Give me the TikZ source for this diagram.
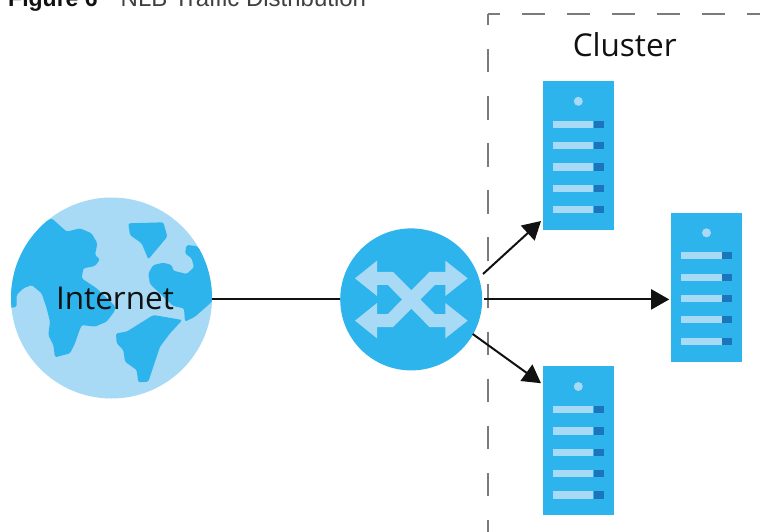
\documentclass[tikz,border=0pt]{standalone}
\usepackage{fontspec}
\setmainfont{Liberation Sans}
\newfontfamily\labelfont{Open Sans}
\usetikzlibrary{arrows.meta}
\definecolor{netblue}{HTML}{2DB4EC}
\definecolor{netlight}{HTML}{A8D9F5}
\definecolor{netdark}{HTML}{1C75BC}
\definecolor{dashgray}{HTML}{7B7B7B}
\definecolor{inkblack}{HTML}{111111}
\tikzset{
  globe/.style={circle,fill=netlight,minimum size=201pt,inner sep=0pt,outer sep=0pt},
  switchnode/.style={circle,fill=netblue,minimum size=142pt,inner sep=0pt,outer sep=0pt},
  server/.style={rectangle,fill=netblue,minimum width=71pt,minimum height=149pt,inner sep=0pt,outer sep=0pt},
  continent/.style={fill=netblue,rounded corners=1.5pt},
  link/.style={line width=2pt,draw=inkblack},
  arrowlink/.style={link,-{Triangle[length=18pt,width=20pt]}},
  bigtext/.style={font=\labelfont\fontsize{31.5}{34}\selectfont,text=inkblack,inner sep=0pt,anchor=base},
  clusterline/.style={draw=dashgray,line width=1.7pt},
  shuffle/.style={draw=netlight,line width=13pt,line join=miter},
  shufflehead/.style={fill=netlight}
}
\newcommand{\serverdetail}[1]{%
  \begin{scope}[shift={(#1.north west)}]
    \fill[netlight] (35.3,20.3) circle (4.5);
    \foreach \yy in {43.3,64.7,86,107.3,128.7}{
      \fill[netlight] (10,\yy-3.6) rectangle (50.3,\yy+3.6);
      \fill[netdark] (51,\yy-3.6) rectangle (61,\yy+3.6);
    }
  \end{scope}}
\begin{document}
\begin{tikzpicture}[x=1pt,y=-1pt]
\useasboundingbox (0,0) rectangle (760,531);
% caption
\node[anchor=base west,inner sep=0pt,font=\bfseries\fontsize{23}{26}\selectfont,text=inkblack] (figno) at (8,6) {Figure 6};
\node[anchor=base west,inner sep=0pt,font=\fontsize{24}{27}\selectfont,text=black!75] (figtitle) at (120.5,6) {NLB Traffic Distribution};
% cluster outline
\draw[clusterline,dash pattern=on 23.5pt off 21.5pt,dash phase=11.5pt] (488.3,14.3) -- (770,14.3);
\draw[clusterline,dash pattern=on 23.5pt off 23.6pt,dash phase=12.5pt] (488.3,14.3) -- (488.3,540);
\node[bigtext] (clusterlabel) at (624.7,56.7) {Cluster};
% globe
\node[globe] (globe) at (111.5,298) {};
\begin{scope}
  \clip (globe) circle (100.5);
  \begin{scope}[shift={(0,180)},x=0.33333pt,y=-0.33333pt]
    \fill[continent] (155,115) -- (200,155) -- (240,145) -- (275,160) -- (292,190) -- (285,225) -- (300,238) -- (285,258) -- (250,265) -- (245,295) -- (290,325) -- (345,378) -- (345,392) -- (320,425) -- (285,440) -- (245,435) -- (235,460) -- (225,490) -- (210,520) -- (165,532) -- (160,495) -- (145,465) -- (150,425) -- (140,385) -- (125,340) -- (95,315) -- (70,325) -- (50,345) -- (50,380) -- (25,385) -- (25,300) -- (45,230) -- (95,150) -- cycle;
    \fill[continent] (385,130) -- (490,127) -- (502,170) -- (445,238) -- (425,190) -- (390,165) -- cycle;
    \fill[continent] (560,195) -- (590,198) -- (650,250) -- (650,350) -- (625,375) -- (585,410) -- (555,425) -- (552,385) -- (520,378) -- (490,350) -- (450,312) -- (445,280) -- (460,255) -- (490,248) -- (515,255) -- (520,272) -- (560,282) -- (582,262) -- (575,235) -- (555,220) -- cycle;
    \fill[continent] (460,405) -- (547,420) -- (510,460) -- (480,500) -- (445,605) -- (415,607) -- (410,570) -- (375,545) -- (370,510) -- (350,490) -- (348,460) -- (380,455) -- (420,430) -- cycle;
  \end{scope}
\end{scope}
\node[bigtext] (internetlabel) at (115,309.3) {Internet};
% switch
\node[switchnode] (switch) at (411.2,299.4) {};
\begin{scope}[shift={(330,220)},x=0.33333pt,y=-0.33333pt]
  \draw[shuffle] (120,175) -- (181,175) -- (307,302) -- (360,302);
  \draw[shuffle] (120,302) -- (181,302) -- (307,175) -- (360,175);
  \fill[shufflehead] (75,175) -- (141,122) -- (141,228) -- cycle;
  \fill[shufflehead] (75,302) -- (141,249) -- (141,355) -- cycle;
  \fill[shufflehead] (413,175) -- (346,122) -- (346,228) -- cycle;
  \fill[shufflehead] (413,302) -- (346,249) -- (346,355) -- cycle;
\end{scope}
% servers
\node[server] (srvtop) at (578.5,155.5) {};
\node[server] (srvright) at (706.7,287) {};
\node[server] (srvbottom) at (578.5,440.7) {};
\serverdetail{srvtop}
\serverdetail{srvright}
\serverdetail{srvbottom}
% connectors
\coordinate (upstart) at (483,274);
\coordinate (downstart) at (472.7,334);
\draw[link] (globe.east |- switch.west) -- (switch.west);
\draw[arrowlink] (upstart) -- ([shift={(-2,-9)}]srvtop.south west);
\draw[arrowlink] (switch.east) ++(2,0) -- ([xshift=-2pt]srvright.west |- switch.east);
\draw[arrowlink] (downstart) -- ([shift={(-2,17)}]srvbottom.north west);
\end{tikzpicture}
\end{document}
